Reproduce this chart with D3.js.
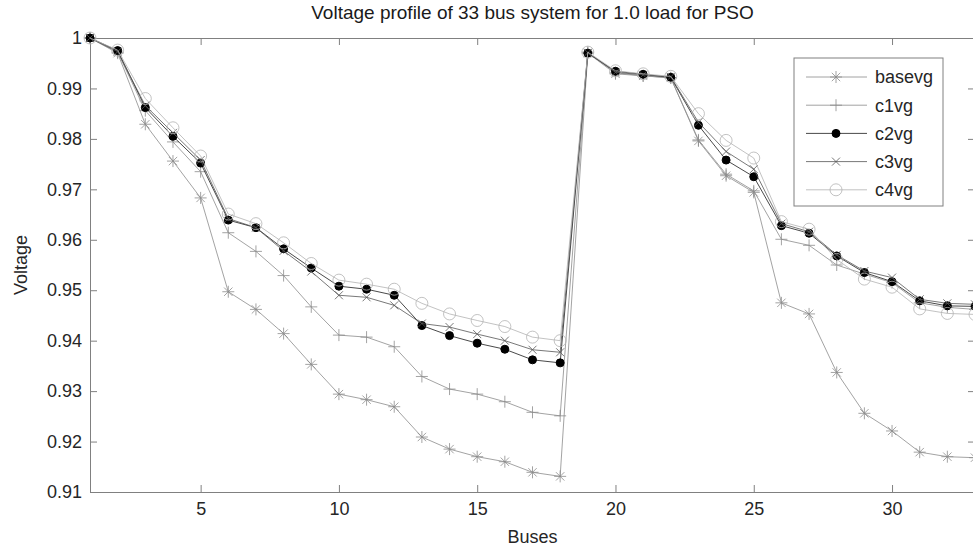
<!DOCTYPE html>
<html lang="en">
<head>
<meta charset="UTF-8">
<title>Voltage profile</title>
<script src="https://d3js.org/d3.v7.min.js"></script>
<style>
html, body { margin: 0; padding: 0; background: white; }
body { font-family: 'Liberation Sans', Arial, sans-serif; }
.axis text { font-size: 18px; fill: #262626; font-family: 'Liberation Sans', Arial, sans-serif; }
.axis path, .axis line { stroke: #808080; }
.legend-label { font-size: 18px; fill: #262626; }
</style>
</head>
<body>
<div id="chart"></div>
<script>

// --------------------------------------
// Data
// --------------------------------------

const buses = d3.range(1, 34);

const basevg = [1.0000, 0.9970, 0.9829, 0.9756, 0.9683, 0.9497, 0.9462, 0.9414, 0.9353, 0.9294,
  0.9283, 0.9269, 0.9209, 0.9185, 0.9170, 0.9160, 0.9139, 0.9131, 0.9970, 0.9929,
  0.9925, 0.9921, 0.9796, 0.9727, 0.9694, 0.9475, 0.9453, 0.9337, 0.9256, 0.9221,
  0.9179, 0.9170, 0.9168];

const c1vg = [1.0000, 0.9972, 0.9856, 0.9794, 0.9735, 0.9614, 0.9577, 0.9529, 0.9467, 0.9411,
  0.9407, 0.9388, 0.9329, 0.9304, 0.9294, 0.9279, 0.9258, 0.9251, 0.9972, 0.9931,
  0.9925, 0.9921, 0.9798, 0.9730, 0.9697, 0.9601, 0.9589, 0.9550, 0.9532, 0.9515,
  0.9475, 0.9466, 0.9462];

const c2vg = [1.0000, 0.9975, 0.9862, 0.9805, 0.9752, 0.9639, 0.9624, 0.9582, 0.9544, 0.9508,
  0.9502, 0.9490, 0.9430, 0.9410, 0.9395, 0.9383, 0.9362, 0.9356, 0.9970, 0.9934,
  0.9928, 0.9922, 0.9827, 0.9758, 0.9725, 0.9628, 0.9613, 0.9568, 0.9535, 0.9517,
  0.9479, 0.9469, 0.9468];

const c3vg = [1.0000, 0.9973, 0.9866, 0.9812, 0.9758, 0.9642, 0.9624, 0.9578, 0.9537, 0.9490,
  0.9486, 0.9470, 0.9434, 0.9427, 0.9413, 0.9400, 0.9382, 0.9377, 0.9971, 0.9932,
  0.9927, 0.9923, 0.9833, 0.9775, 0.9740, 0.9632, 0.9616, 0.9570, 0.9538, 0.9525,
  0.9482, 0.9474, 0.9472];

const c4vg = [1.0000, 0.9976, 0.9880, 0.9822, 0.9766, 0.9651, 0.9632, 0.9594, 0.9553, 0.9520,
  0.9512, 0.9502, 0.9474, 0.9453, 0.9440, 0.9428, 0.9407, 0.9400, 0.9972, 0.9935,
  0.9929, 0.9924, 0.9850, 0.9797, 0.9762, 0.9636, 0.9621, 0.9561, 0.9522, 0.9506,
  0.9463, 0.9454, 0.9452];

const seriesNames = ["basevg", "c1vg", "c2vg", "c3vg", "c4vg"];
const xTicks = [5, 10, 15, 20, 25, 30];
const yTicks = [0.91, 0.92, 0.93, 0.94, 0.95, 0.96, 0.97, 0.98, 0.99, 1];

// --------------------------------------
// Size and margin
// --------------------------------------

let totalWidth = 973;
let totalHeight = 548;
let margin = {top: 38, right: -2, bottom: 56, left: 90};

let svg = d3.select("#chart")
  .append("svg")
  .attr("width", totalWidth)
  .attr("height", totalHeight);

let x = d3.scaleLinear()
  .domain([1, 33])
  .range([margin.left, totalWidth - margin.right]);

let y = d3.scaleLinear()
  .domain([0.91, 1])
  .range([totalHeight - margin.bottom, margin.top]);

// --------------------------------------
// Axes (MATLAB style box, ticks inside)
// --------------------------------------

const tickLen = 7;
const x0 = x.range()[0], x1 = x.range()[1];
const y0 = y.range()[0], y1 = y.range()[1];

svg.append("g")
  .attr("class", "axis")
  .attr("transform", `translate(0,${y0})`)
  .call(d3.axisBottom(x).tickValues(xTicks).tickSize(-tickLen).tickPadding(10).tickFormat(d3.format("d")));

svg.append("g")
  .attr("class", "axis")
  .attr("transform", `translate(0,${y1})`)
  .call(d3.axisTop(x).tickValues(xTicks).tickSize(-tickLen).tickFormat(""));

svg.append("g")
  .attr("class", "axis")
  .attr("transform", `translate(${x0},0)`)
  .call(d3.axisLeft(y).tickValues(yTicks).tickSize(-tickLen).tickPadding(8)
    .tickFormat(d => d === 1 ? "1" : d3.format(".2f")(d)));

svg.append("g")
  .attr("class", "axis")
  .attr("transform", `translate(${x1},0)`)
  .call(d3.axisRight(y).tickValues(yTicks).tickSize(-tickLen).tickFormat(""));

svg.selectAll(".axis .domain").attr("stroke", "#808080");

// labels
svg.append("text")
  .attr("x", (x0 + x1) / 2)
  .attr("y", 19)
  .attr("text-anchor", "middle")
  .style("font-size", "19px")
  .style("fill", "#1a1a1a")
  .text("Voltage profile of 33 bus system for 1.0 load for PSO");

svg.append("text")
  .attr("x", (x0 + x1) / 2)
  .attr("y", 543)
  .attr("text-anchor", "middle")
  .style("font-size", "18px")
  .style("fill", "#262626")
  .text("Buses");

svg.append("text")
  .attr("transform", `translate(27,${(y0 + y1) / 2}) rotate(-90)`)
  .attr("text-anchor", "middle")
  .style("font-size", "18px")
  .style("fill", "#262626")
  .text("Voltage");

// --------------------------------------
// Series
// --------------------------------------

const styles = {
  basevg: {color: "#8c8c8c", marker: "star"},
  c1vg:   {color: "#8c8c8c", marker: "plus"},
  c2vg:   {color: "#1a1a1a", marker: "dot"},
  c3vg:   {color: "#555555", marker: "cross"},
  c4vg:   {color: "#b3b3b3", marker: "circle"}
};

const allData = {basevg, c1vg, c2vg, c3vg, c4vg};

function drawMarker(g, type, color) {
  const r = 6;
  if (type === "star") {
    g.append("path")
      .attr("d", `M${-r},0H${r}M0,${-r}V${r}M${-r*0.7},${-r*0.7}L${r*0.7},${r*0.7}M${-r*0.7},${r*0.7}L${r*0.7},${-r*0.7}`)
      .attr("stroke", color).attr("stroke-width", 0.8).attr("fill", "none");
  } else if (type === "plus") {
    g.append("path")
      .attr("d", `M${-r},0H${r}M0,${-r}V${r}`)
      .attr("stroke", color).attr("stroke-width", 0.8).attr("fill", "none");
  } else if (type === "cross") {
    const c = 4;
    g.append("path")
      .attr("d", `M${-c},${-c}L${c},${c}M${-c},${c}L${c},${-c}`)
      .attr("stroke", color).attr("stroke-width", 0.8).attr("fill", "none");
  } else if (type === "dot") {
    g.append("circle").attr("r", 4).attr("fill", "#000").attr("stroke", "#000");
  } else if (type === "circle") {
    g.append("circle").attr("r", 6).attr("fill", "none")
      .attr("stroke", color).attr("stroke-width", 0.8);
  }
}

let line = d3.line()
  .x((d, i) => x(buses[i]))
  .y(d => y(d));

let plot = svg.append("g");

seriesNames.forEach(name => {
  const st = styles[name];
  plot.append("path")
    .datum(allData[name])
    .attr("d", line)
    .attr("fill", "none")
    .attr("stroke", st.color)
    .attr("stroke-width", 0.8);

  plot.selectAll(".m-" + name)
    .data(allData[name])
    .join("g")
    .attr("class", "m-" + name)
    .attr("transform", (d, i) => `translate(${x(buses[i])},${y(d)})`)
    .each(function() { drawMarker(d3.select(this), st.marker, st.color); });
});

// --------------------------------------
// Legend
// --------------------------------------

let legend = svg.append("g").attr("transform", "translate(794,58)");

legend.append("rect")
  .attr("width", 149)
  .attr("height", 148)
  .attr("fill", "white")
  .attr("stroke", "#808080")
  .attr("stroke-width", 1);

seriesNames.forEach((name, i) => {
  const st = styles[name];
  const ry = 19 + i * 28.2;
  legend.append("line")
    .attr("x1", 12).attr("x2", 73)
    .attr("y1", ry).attr("y2", ry)
    .attr("stroke", st.color).attr("stroke-width", 0.8);
  drawMarker(legend.append("g").attr("transform", `translate(42,${ry})`), st.marker, st.color);
  legend.append("text")
    .attr("class", "legend-label")
    .attr("x", 81)
    .attr("y", ry)
    .attr("dy", "0.35em")
    .text(name);
});

</script>
</body>
</html>
